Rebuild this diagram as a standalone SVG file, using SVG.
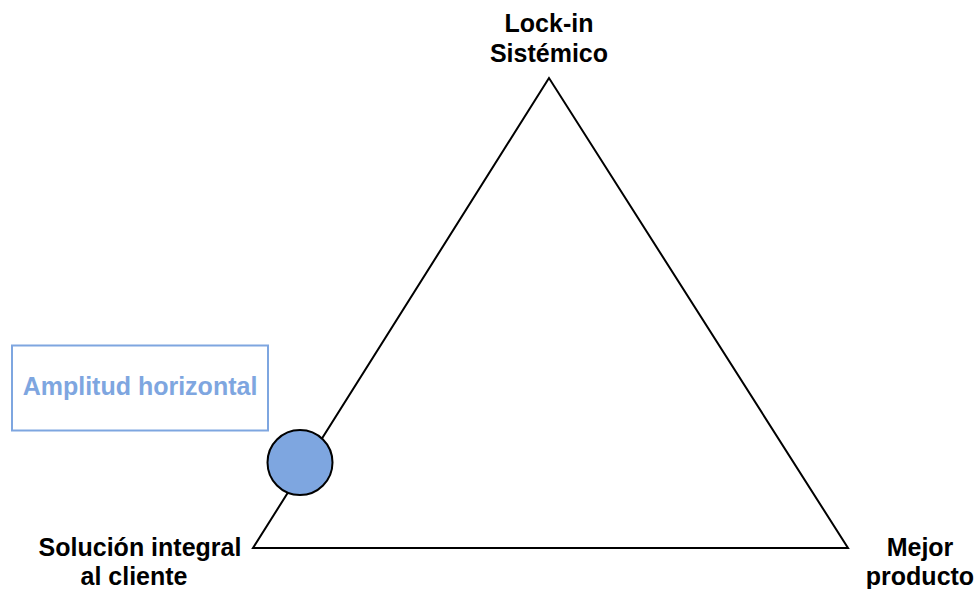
<svg xmlns="http://www.w3.org/2000/svg" width="975" height="589" viewBox="0 0 975 589">
  <style>
    .lbl { font-family: "Liberation Sans", Arial, sans-serif; font-weight: bold; font-size: 25px; fill: #000000; text-anchor: middle; }
    .accent { fill: #7EA6E0; }
  </style>
  <rect width="975" height="589" fill="#ffffff"/>
  <g id="triangle">
    <polygon points="549,78 253,548 848,548" fill="none" stroke="#000000" stroke-width="2" stroke-linejoin="miter"/>
  </g>
  <g id="amplitud-box">
    <rect x="12" y="345.5" width="256" height="85" fill="#ffffff" stroke="#7EA6E0" stroke-width="2"/>
    <text class="lbl accent" x="140" y="395">Amplitud horizontal</text>
  </g>
  <g id="marker-circle">
    <circle cx="300" cy="462.5" r="32.5" fill="#7EA6E0" stroke="#000000" stroke-width="2"/>
  </g>
  <g id="label-top">
    <text class="lbl" x="549" y="32">Lock-in</text>
    <text class="lbl" x="549" y="62">Sistémico</text>
  </g>
  <g id="label-left">
    <text class="lbl" x="140" y="556">Solución integral</text>
    <text class="lbl" x="134" y="585">al cliente</text>
  </g>
  <g id="label-right">
    <text class="lbl" x="920" y="556">Mejor</text>
    <text class="lbl" x="920" y="585">producto</text>
  </g>
</svg>
